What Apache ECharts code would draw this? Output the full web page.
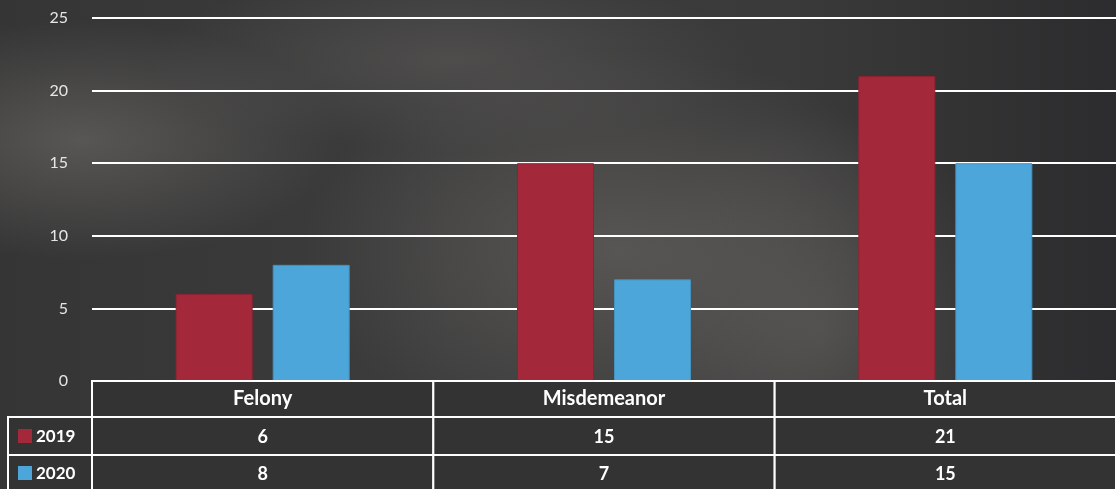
<!DOCTYPE html>
<html>
<head>
<meta charset="utf-8">
<script src="https://cdn.jsdelivr.net/npm/echarts@6/dist/echarts.min.js"></script>
<style>
  html, body { margin: 0; padding: 0; }
  #chart {
    width: 1116px; height: 489px;
    background:
      radial-gradient(ellipse 320px 200px at 620px 250px, rgba(110,108,104,0.55), rgba(110,108,104,0) 100%),
      radial-gradient(ellipse 260px 120px at 80px 140px, rgba(120,118,114,0.5), rgba(120,118,114,0) 100%),
      radial-gradient(ellipse 300px 90px at 450px 60px, rgba(100,98,96,0.45), rgba(100,98,96,0) 100%),
      radial-gradient(ellipse 200px 220px at 820px 330px, rgba(105,103,100,0.45), rgba(105,103,100,0) 100%),
      linear-gradient(90deg, #353535 0%, #3c3c3c 40%, #3a3a3a 70%, #2c2c2e 100%);
  }
</style>
</head>
<body>
<div id="chart"></div>
<script>
  var categories = ['Felony', 'Misdemeanor', 'Total'];
  var seriesNames = ['2019', '2020'];
  var values2019 = [6, 15, 21];
  var values2020 = [8, 7, 15];

  var colors = { red: '#A3293A', blue: '#4DA6DA', cell: '#333333', line: '#FFFFFF', text: '#FFFFFF', axis: '#E6E6E6' };
  var font = 'Lato, "Open Sans", sans-serif';

  var gridLeft = 92, gridTop = 18, gridBottom = 108, W = 1116, H = 489;

  var chart = echarts.init(document.getElementById('chart'));

  chart.setOption({
    animation: false,
    backgroundColor: 'transparent',
    grid: { left: gridLeft, right: 0, top: gridTop, bottom: gridBottom },
    xAxis: {
      type: 'category',
      data: categories,
      axisLine: { show: false },
      axisTick: { show: false },
      axisLabel: { show: false }
    },
    yAxis: {
      type: 'value',
      min: 0, max: 25, interval: 5,
      axisLine: { show: false },
      axisTick: { show: false },
      axisLabel: { color: colors.axis, fontSize: 16, fontFamily: font, margin: 24 },
      splitLine: { lineStyle: { color: colors.line, width: 2 } }
    },
    series: [
      {
        name: seriesNames[0], type: 'bar', data: values2019,
        barWidth: 77, barGap: '26%',
        itemStyle: { color: colors.red, borderColor: '#8f2333', borderWidth: 1 }
      },
      {
        name: seriesNames[1], type: 'bar', data: values2020,
        barWidth: 77,
        itemStyle: { color: colors.blue, borderColor: '#4492c0', borderWidth: 1 }
      }
    ]
  });

  // data table under the plot
  var rowTop = H - gridBottom;
  var rowH = [36, 38, 36];
  var colW = (W - gridLeft) / categories.length;
  var legendLeft = 8;
  var g = [];

  function cell(x, y, w, h) {
    g.push({
      type: 'rect', z: 10,
      shape: { x: x, y: y, width: w, height: h },
      style: { fill: colors.cell, stroke: colors.line, lineWidth: 2 }
    });
  }
  function label(x, y, txt, size, align) {
    g.push({
      type: 'text', z: 11, x: x, y: y,
      style: {
        text: txt, fill: colors.text, fontSize: size, fontWeight: 'bold',
        fontFamily: font, align: align || 'center', verticalAlign: 'middle'
      }
    });
  }

  var rows = [values2019, values2020];
  var rowColors = [colors.red, colors.blue];
  var y = rowTop;
  categories.forEach(function(c, i) {
    var x = chart.convertToPixel({ xAxisIndex: 0 }, c) - colW / 2;
    cell(x, y, colW, rowH[0]);
    label(x + colW / 2, y + rowH[0] / 2, c, 20);
  });
  y += rowH[0];
  rows.forEach(function(vals, r) {
    cell(legendLeft, y, gridLeft - legendLeft, rowH[r + 1]);
    g.push({
      type: 'rect', z: 11,
      shape: { x: legendLeft + 10, y: y + rowH[r + 1] / 2 - 7, width: 14, height: 14 },
      style: { fill: rowColors[r] }
    });
    label(legendLeft + 28, y + rowH[r + 1] / 2 + 1, seriesNames[r], 17, 'left');
    categories.forEach(function(c, i) {
      var x = chart.convertToPixel({ xAxisIndex: 0 }, c) - colW / 2;
      cell(x, y, colW, rowH[r + 1]);
      label(x + colW / 2, y + rowH[r + 1] / 2 + 1, String(vals[i]), 18);
    });
    y += rowH[r + 1];
  });

  chart.setOption({ graphic: g });
</script>
</body>
</html>
